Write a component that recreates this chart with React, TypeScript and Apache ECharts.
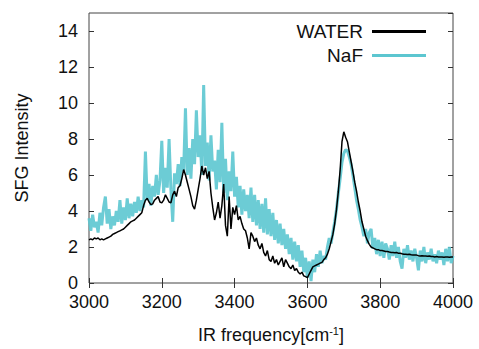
import React, { useEffect, useRef } from "react";
import * as echarts from "echarts";

const freq: number[] = [
  3000, 3005, 3010, 3015, 3020, 3025, 3030, 3035, 3040, 3045,
  3050, 3055, 3060, 3065, 3070, 3075, 3080, 3085, 3090, 3095,
  3100, 3105, 3110, 3115, 3120, 3125, 3130, 3135, 3140, 3145,
  3150, 3155, 3160, 3165, 3170, 3175, 3180, 3185, 3190, 3195,
  3200, 3205, 3210, 3215, 3220, 3225, 3230, 3235, 3240, 3245,
  3250, 3255, 3260, 3265, 3270, 3275, 3280, 3285, 3290, 3295,
  3300, 3305, 3310, 3315, 3320, 3325, 3330, 3335, 3340, 3345,
  3350, 3355, 3360, 3365, 3370, 3375, 3380, 3385, 3390, 3395,
  3400, 3405, 3410, 3415, 3420, 3425, 3430, 3435, 3440, 3445,
  3450, 3455, 3460, 3465, 3470, 3475, 3480, 3485, 3490, 3495,
  3500, 3505, 3510, 3515, 3520, 3525, 3530, 3535, 3540, 3545,
  3550, 3555, 3560, 3565, 3570, 3575, 3580, 3585, 3590, 3595,
  3600, 3605, 3610, 3615, 3620, 3625, 3630, 3635, 3640, 3645,
  3650, 3655, 3660, 3665, 3670, 3675, 3680, 3685, 3690, 3695,
  3700, 3705, 3710, 3715, 3720, 3725, 3730, 3735, 3740, 3745,
  3750, 3755, 3760, 3765, 3770, 3775, 3780, 3785, 3790, 3795,
  3800, 3805, 3810, 3815, 3820, 3825, 3830, 3835, 3840, 3845,
  3850, 3855, 3860, 3865, 3870, 3875, 3880, 3885, 3890, 3895,
  3900, 3905, 3910, 3915, 3920, 3925, 3930, 3935, 3940, 3945,
  3950, 3955, 3960, 3965, 3970, 3975, 3980, 3985, 3990, 3995,
  4000,
];

const water: number[] = [
  2.4, 2.45, 2.4, 2.5, 2.45, 2.5, 2.4, 2.45, 2.4, 2.45,
  2.5, 2.55, 2.6, 2.7, 2.75, 2.8, 2.85, 2.9, 2.95, 3.0,
  3.1, 3.2, 3.3, 3.4, 3.45, 3.5, 3.6, 3.7, 3.8, 3.9,
  4.3, 4.6, 4.7, 4.5, 4.35, 4.4, 4.6, 4.7, 4.8, 4.5,
  4.45, 4.6, 4.9, 4.7, 4.5, 4.45, 4.9, 5.1, 4.8, 5.3,
  5.4, 5.8, 6.3, 6.0, 5.6, 5.2, 4.8, 4.3, 4.1, 4.6,
  5.2, 5.8, 6.5, 6.0, 6.4, 5.8, 6.2, 5.0, 4.2, 3.5,
  3.9, 4.5, 3.6, 4.3, 5.5, 3.2, 2.6, 4.8, 3.0, 4.2,
  3.8, 4.3, 3.5, 3.7, 3.3, 3.0, 2.9, 2.5, 1.9, 2.8,
  2.6, 2.3, 2.5, 2.1, 1.9, 2.2, 1.7, 1.5, 1.8, 1.3,
  1.2, 1.5, 1.1, 1.3, 1.0, 1.2, 1.4, 0.9, 1.3, 1.1,
  0.9, 0.8, 1.0, 0.7, 0.8, 0.6, 0.5, 0.6, 0.4, 0.35,
  0.3, 0.5, 0.7, 0.9, 0.95, 1.0, 1.05, 1.1, 1.15, 1.3,
  1.4, 1.6, 1.9, 2.3, 2.7, 3.3, 4.1, 5.1, 6.3, 7.85,
  8.4, 8.1, 7.85, 7.3, 6.75, 6.2, 5.6, 5.1, 4.5, 4.0,
  3.4, 3.0, 2.6, 2.35, 2.15, 2.0, 1.95, 1.9, 1.85, 1.85,
  1.8, 1.8, 1.78, 1.75, 1.75, 1.72, 1.7, 1.7, 1.68, 1.7,
  1.65, 1.65, 1.62, 1.6, 1.6, 1.58, 1.6, 1.57, 1.55, 1.55,
  1.55, 1.52, 1.5, 1.52, 1.5, 1.5, 1.48, 1.5, 1.47, 1.47,
  1.45, 1.47, 1.45, 1.44, 1.45, 1.43, 1.45, 1.44, 1.43, 1.45,
  1.45,
];

const naf: number[] = [
  3.6, 2.9, 3.8, 3.1, 3.4, 2.8, 3.9, 3.2, 4.2, 4.8,
  3.3, 4.1, 3.0, 3.7, 3.2, 4.0, 3.4, 4.6, 3.3, 4.2,
  3.5, 4.7, 3.6, 4.4, 3.7, 4.5, 3.9, 4.8, 4.0, 4.6,
  4.2, 7.3, 4.6, 5.5, 4.3, 5.4, 4.8, 6.0, 4.9, 5.7,
  7.9, 5.0, 6.4, 5.3, 8.0, 5.2, 3.4, 6.1, 5.5, 6.6,
  5.4, 7.0, 6.2, 9.7, 6.0, 7.5, 5.8, 8.0, 6.6, 9.6,
  7.0, 8.2, 6.0, 11.0, 6.5, 7.8, 5.7, 8.2, 6.2, 6.8,
  5.2, 7.4, 5.6, 8.9, 5.0, 6.9, 4.6, 6.2, 5.1, 7.3,
  4.8, 5.9, 4.2, 5.4, 3.8, 5.2, 4.0, 4.9, 3.6, 5.3,
  3.4, 4.9, 3.2, 4.6, 3.0, 4.4, 2.8, 4.7, 2.7, 4.1,
  2.6, 3.9, 2.4, 3.5, 2.2, 3.3, 2.1, 3.0, 1.9, 2.7,
  1.6, 2.5, 1.3, 2.3, 1.2, 2.1, 0.9, 1.8, 0.6, 1.4,
  0.3, 1.2, 0.1, 1.3, 0.6, 1.6, 0.9, 1.8, 1.1, 1.5,
  1.3, 2.0, 2.5, 2.2, 2.8, 3.4, 4.1, 5.0, 5.8, 6.7,
  7.2, 7.4, 7.35, 7.0, 6.6, 6.0, 5.3, 4.6, 4.1, 3.5,
  3.1, 2.6, 3.0, 2.2, 2.8, 3.0, 1.9, 2.5, 1.6, 2.4,
  1.5, 2.3, 1.4, 2.2, 1.9, 1.3, 2.1, 1.5, 2.3, 1.4,
  2.0, 1.2, 0.8, 1.9, 1.4, 2.1, 1.3, 1.8, 1.2, 1.9,
  1.4, 0.7, 1.8, 1.2, 2.0, 1.1, 1.7, 1.3, 1.9, 1.2,
  1.6, 1.1, 1.8, 1.3, 1.7, 1.0, 1.9, 1.2, 2.0, 1.1,
  1.5,
];

const seriesNames = ["WATER", "NaF"];
const xTicks = { min: 3000, max: 4000, interval: 200 };
const yTicks = { min: 0, max: 15, interval: 2 };

const FONT = "'Liberation Sans', Arial, sans-serif";
const CYAN = "#5cc6d0";

export default function App() {
  const ref = useRef<HTMLDivElement>(null);
  useEffect(() => {
    if (!ref.current) return;
    const chart = echarts.init(ref.current, undefined, { renderer: "svg" });
    const tickStyle = { color: "#333", width: 1 };
    const option: any = {
      animation: false,
      backgroundColor: "#fff",
      textStyle: { fontFamily: FONT },
      grid: {
        left: 89,
        right: 26,
        top: 13,
        bottom: 63,
        show: true,
        borderColor: "#444",
        borderWidth: 1,
        backgroundColor: "transparent",
      },
      legend: {
        data: [
          { name: seriesNames[0], icon: "rect", itemStyle: { color: "#000" } },
          { name: seriesNames[1], icon: "rect", itemStyle: { color: CYAN } },
        ],
        orient: "vertical",
        right: 48,
        top: 17,
        align: "right",
        itemWidth: 54,
        itemHeight: 3,
        itemGap: 5,
        textStyle: { fontSize: 19, color: "#111", fontFamily: FONT, padding: [0, 4, 0, 0] },
      },
      xAxis: [
        {
          type: "value",
          min: xTicks.min,
          max: xTicks.max,
          interval: xTicks.interval,
          position: "bottom",
          name: "IR frequency[cm{sup|-1}]",
          nameLocation: "middle",
          nameGap: 42,
          nameTextStyle: {
            fontSize: 18,
            color: "#111",
            fontFamily: FONT,
            rich: { sup: { fontSize: 11, verticalAlign: "top", padding: [0, 0, 9, 0], color: "#111" } },
          },
          axisLine: { show: false },
          axisTick: { inside: true, length: 5, lineStyle: tickStyle },
          axisLabel: { fontSize: 18, color: "#111", margin: 10, fontFamily: FONT, formatter: (v: number) => String(v) },
          splitLine: { show: false },
        },
        {
          type: "value",
          min: xTicks.min,
          max: xTicks.max,
          interval: xTicks.interval,
          position: "top",
          axisLine: { show: false },
          axisTick: { inside: true, length: 5, lineStyle: tickStyle },
          axisLabel: { show: false },
          splitLine: { show: false },
        },
      ],
      yAxis: [
        {
          type: "value",
          min: yTicks.min,
          max: yTicks.max,
          interval: yTicks.interval,
          position: "left",
          name: "SFG Intensity",
          nameLocation: "middle",
          nameGap: 58,
          nameTextStyle: { fontSize: 18, color: "#111", fontFamily: FONT },
          axisLine: { show: false },
          axisTick: { inside: true, length: 5, lineStyle: tickStyle },
          axisLabel: { fontSize: 18, color: "#111", margin: 11, fontFamily: FONT, showMaxLabel: false },
          splitLine: { show: false },
        },
        {
          type: "value",
          min: yTicks.min,
          max: yTicks.max,
          interval: yTicks.interval,
          position: "right",
          axisLine: { show: false },
          axisTick: { inside: true, length: 5, lineStyle: tickStyle },
          axisLabel: { show: false },
          splitLine: { show: false },
        },
      ],
      series: [
        {
          name: "NaF",
          type: "line",
          data: freq.map((f, i) => [f, naf[i]]),
          symbol: "none",
          color: CYAN,
          lineStyle: { color: CYAN, width: 3, opacity: 0.9 },
          xAxisIndex: 0,
          yAxisIndex: 0,
        },
        {
          name: "WATER",
          type: "line",
          data: freq.map((f, i) => [f, water[i]]),
          symbol: "none",
          color: "#000",
          lineStyle: { color: "#000", width: 1.5 },
          xAxisIndex: 0,
          yAxisIndex: 0,
        },
      ],
    };
    chart.setOption(option);
    return () => chart.dispose();
  }, []);
  return <div ref={ref} style={{ width: 479, height: 349, position: "absolute", left: 0, top: 0 }} />;
}
